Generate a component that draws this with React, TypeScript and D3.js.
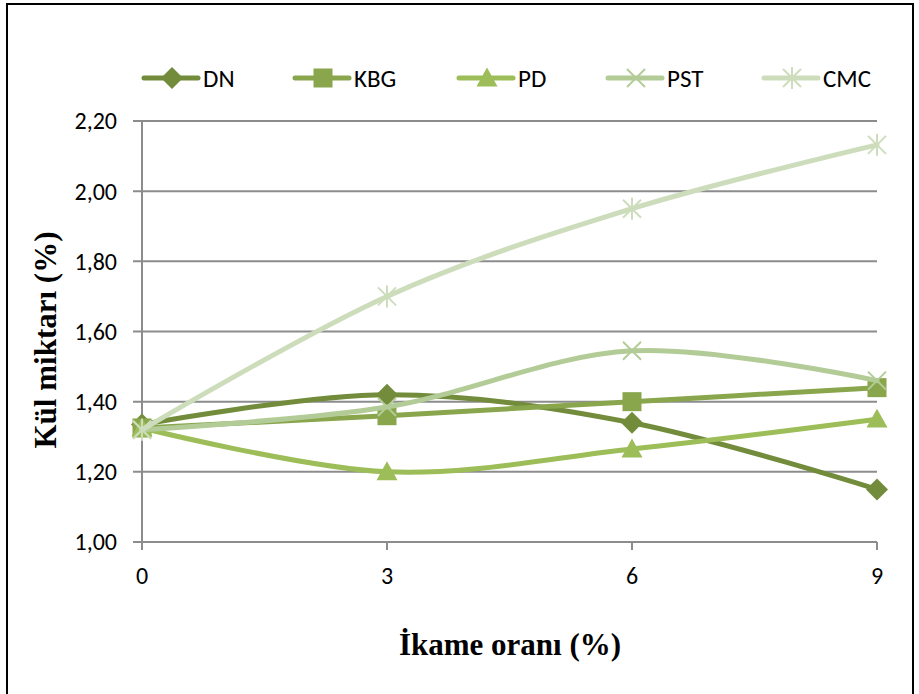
import React from "react";
import * as d3 from "d3";

const xValues = [0, 3, 6, 9];
const yTicks = [1.0, 1.2, 1.4, 1.6, 1.8, 2.0, 2.2];
const seriesNames = ["DN", "KBG", "PD", "PST", "CMC"];
const DN = [1.335, 1.42, 1.34, 1.15];
const KBG = [1.325, 1.36, 1.4, 1.44];
const PD = [1.325, 1.2, 1.265, 1.35];
const PST = [1.32, 1.385, 1.545, 1.46];
const CMC = [1.32, 1.7, 1.95, 2.132];
const seriesValues = [DN, KBG, PD, PST, CMC];
const colors = ["#728C3C", "#89A64C", "#9CBD57", "#B3CC97", "#CDDDBC"];
const markers = ["diamond", "square", "triangle", "x", "asterisk"];

function Marker({ type, cx, cy, color }: { type: string; cx: number; cy: number; color: string }) {
  if (type === "diamond") {
    const s = 11;
    return <path d={`M${cx},${cy - s}L${cx + s},${cy}L${cx},${cy + s}L${cx - s},${cy}Z`} fill={color} />;
  }
  if (type === "square") {
    const s = 9.5;
    return <rect x={cx - s} y={cy - s} width={2 * s} height={2 * s} fill={color} />;
  }
  if (type === "triangle") {
    const s = 10.5;
    return <path d={`M${cx},${cy - s}L${cx + s},${cy + s * 0.8}L${cx - s},${cy + s * 0.8}Z`} fill={color} />;
  }
  const s = 9;
  return (
    <g stroke={color} strokeWidth={2}>
      <line x1={cx - s} y1={cy - s} x2={cx + s} y2={cy + s} />
      <line x1={cx - s} y1={cy + s} x2={cx + s} y2={cy - s} />
      {type === "asterisk" && <line x1={cx} y1={cy - s - 2} x2={cx} y2={cy + s + 2} />}
    </g>
  );
}

export default function App() {
  const W = 919, H = 694;
  const x = d3.scaleLinear().domain([0, 9]).range([142, 877]);
  const y = d3.scaleLinear().domain([1.0, 2.2]).range([542, 121]);
  const line = d3
    .line<number>()
    .x((_, i) => x(xValues[i]))
    .y((d) => y(d))
    .curve(d3.curveCardinal.tension(0));
  const fmt = (v: number) => v.toFixed(2).replace(".", ",");
  const legendX = [144, 295, 459, 608, 764];
  const legendY = 78;
  const sans = "Carlito, Liberation Sans, Arial, sans-serif";
  return (
    <svg width={W} height={H} style={{ position: "absolute", left: 0, top: 0 }}>
      <rect x={0} y={0} width={W} height={H} fill="#fff" />
      <rect x={7} y={4} width={906} height={700} fill="none" stroke="#000" strokeWidth={2} />
      {yTicks.map((t) => (
        <line key={t} x1={x(0) - 9} x2={x(9)} y1={y(t)} y2={y(t)} stroke="#8C8C8C" strokeWidth={2} />
      ))}
      <line x1={x(0)} x2={x(0)} y1={y(2.2)} y2={y(1.0)} stroke="#8C8C8C" strokeWidth={2} />
      {xValues.map((v) => (
        <line key={v} x1={x(v)} x2={x(v)} y1={y(1.0)} y2={y(1.0) + 8} stroke="#8C8C8C" strokeWidth={2} />
      ))}
      {yTicks.map((t) => (
        <text key={t} x={117} y={y(t)} dy="0.35em" textAnchor="end" fontFamily={sans} fontSize={24} fill="#000">
          {fmt(t)}
        </text>
      ))}
      {xValues.map((v) => (
        <text key={v} x={x(v)} y={584} textAnchor="middle" fontFamily={sans} fontSize={24} fill="#000">
          {v}
        </text>
      ))}
      {seriesValues.map((vals, si) => (
        <g key={seriesNames[si]}>
          <path d={line(vals) || ""} fill="none" stroke={colors[si]} strokeWidth={5} strokeLinecap="round" />
          {vals.map((v, i) => (
            <Marker key={i} type={markers[si]} cx={x(xValues[i])} cy={y(v)} color={colors[si]} />
          ))}
        </g>
      ))}
      {seriesNames.map((n, si) => (
        <g key={n}>
          <line x1={legendX[si]} x2={legendX[si] + 54} y1={legendY} y2={legendY} stroke={colors[si]} strokeWidth={5} strokeLinecap="round" />
          <Marker type={markers[si]} cx={legendX[si] + 28} cy={legendY} color={colors[si]} />
          <text x={legendX[si] + 59} y={legendY} dy="0.35em" fontFamily={sans} fontSize={25} fill="#000">
            {n}
          </text>
        </g>
      ))}
      <text
        transform={`translate(56,340) rotate(-90)`}
        textAnchor="middle"
        fontFamily="Liberation Serif, Times New Roman, serif"
        fontWeight="bold"
        fontSize={31}
        fill="#000"
      >
        Kül miktarı (%)
      </text>
      <text x={510} y={655} textAnchor="middle" fontFamily="Liberation Serif, Times New Roman, serif" fontWeight="bold" fontSize={31} fill="#000">
        İkame oranı (%)
      </text>
    </svg>
  );
}
